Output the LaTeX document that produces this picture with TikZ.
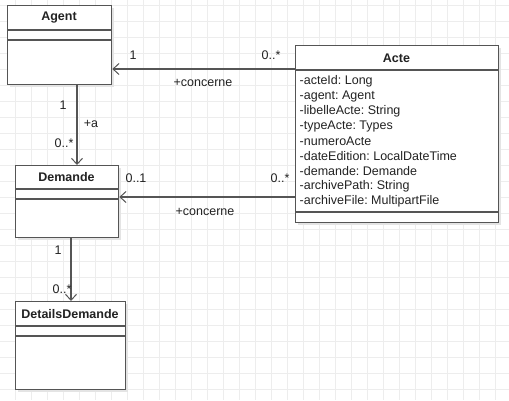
\documentclass[tikz,border=0pt]{standalone}
\usepackage{fontspec}
\setmainfont{Liberation Sans}
\usetikzlibrary{arrows.meta,calc}
\frenchspacing
\definecolor{lineclr}{HTML}{555555}
\definecolor{gridclr}{HTML}{EDEDED}
\definecolor{shadowclr}{HTML}{E4E4E4}
\definecolor{txtclr}{HTML}{222222}
\tikzset{
  umlclass/.style={draw=lineclr, line width=1.3pt, fill=white, inner sep=0pt, anchor=north west},
  sep/.style={draw=lineclr, line width=1.3pt},
  assoc/.style={draw=lineclr, line width=1.3pt, -{Straight Barb[length=6pt,width=11pt,line width=1pt]}},
  title/.style={font=\fontsize{12.5}{14}\selectfont\bfseries, text=txtclr},
  lbl/.style={font=\fontsize{12.5}{14}\selectfont, text=txtclr, inner sep=0pt},
  attr/.style={font=\fontsize{12.5}{14}\selectfont, text=txtclr, inner sep=0pt, anchor=west},
}
\begin{document}
\begin{tikzpicture}[x=1pt,y=-1pt]
  \useasboundingbox (0,0) rectangle (509,400);
  % background grid
  \fill[white] (0,0) rectangle (509,400);
  \foreach \gx in {-0.7,15.3,...,509} \draw[gridclr, line width=0.8pt] (\gx,0) -- (\gx,400);
  \foreach \gy in {5,21,...,400} \draw[gridclr, line width=0.8pt] (0,\gy) -- (509,\gy);

  % shadows
  \fill[shadowclr] (10,8) rectangle (114,87);
  \fill[shadowclr] (18,168) rectangle (121,240);
  \fill[shadowclr] (18,304) rectangle (128,392);
  \fill[shadowclr] (298,48) rectangle (501,225);

  % class Agent
  \node[umlclass, minimum width=104pt, minimum height=79pt] (agent) at (7,5) {};
  \node[title] (agentT) at (59,17.5) {Agent};
  \draw[sep] (7,30) -- (111,30);
  \draw[sep] (7,40) -- (111,40);

  % class Demande
  \node[umlclass, minimum width=103pt, minimum height=72pt] (demande) at (15,165) {};
  \node[title] (demandeT) at (66.5,177.5) {Demande};
  \draw[sep] (15,189) -- (118,189);
  \draw[sep] (15,199) -- (118,199);

  % class DetailsDemande
  \node[umlclass, minimum width=110pt, minimum height=88pt] (details) at (15,301) {};
  \node[title] (detailsT) at (70,314) {DetailsDemande};
  \draw[sep] (15,326) -- (125,326);
  \draw[sep] (15,336) -- (125,336);

  % class Acte
  \node[umlclass, minimum width=203pt, minimum height=177pt] (acte) at (295,45) {};
  \node[title] (acteT) at (396.5,58) {Acte};
  \draw[sep] (295,70) -- (498,70);
  \draw[sep] (295,212) -- (498,212);
  \foreach \t [count=\i from 0] in {-acteId: Long,-agent: Agent,-libelleActe: String,-typeActe: Types,-numeroActe,-dateEdition: LocalDateTime,-demande: Demande,-archivePath: String,-archiveFile: MultipartFile}
    \node[attr] (attr\i) at (299.5,81.7+14.9*\i) {\t};

  % associations
  \coordinate (acteToAgent) at (295,69);
  \coordinate (acteToDemande) at (295,197);
  \draw[assoc] (acteToAgent) -- (agent.east |- acteToAgent);
  \draw[assoc] (acteToDemande) -- (demande.east |- acteToDemande);
  \coordinate (agentOut) at (77,84);
  \draw[assoc] (agentOut) -- (agentOut |- demande.north);
  \coordinate (demandeOut) at (71,237);
  \draw[assoc] (demandeOut) -- (demandeOut |- details.north);

  % association labels
  \node[lbl] (m1) at (133,55) {1};
  \node[lbl] (m2) at (271,55) {0..*};
  \node[lbl] (r1) at (203,83) {+concerne};
  \node[lbl] (m3) at (136,178) {0..1};
  \node[lbl] (m4) at (280,178) {0..*};
  \node[lbl] (r2) at (205,212) {+concerne};
  \node[lbl] (m5) at (63,105) {1};
  \node[lbl] (r3) at (91,124) {+a};
  \node[lbl] (m6) at (64,143) {0..*};
  \node[lbl] (m7) at (58,250) {1};
  \node[lbl] (m8) at (62,289) {0..*};
\end{tikzpicture}
\end{document}
